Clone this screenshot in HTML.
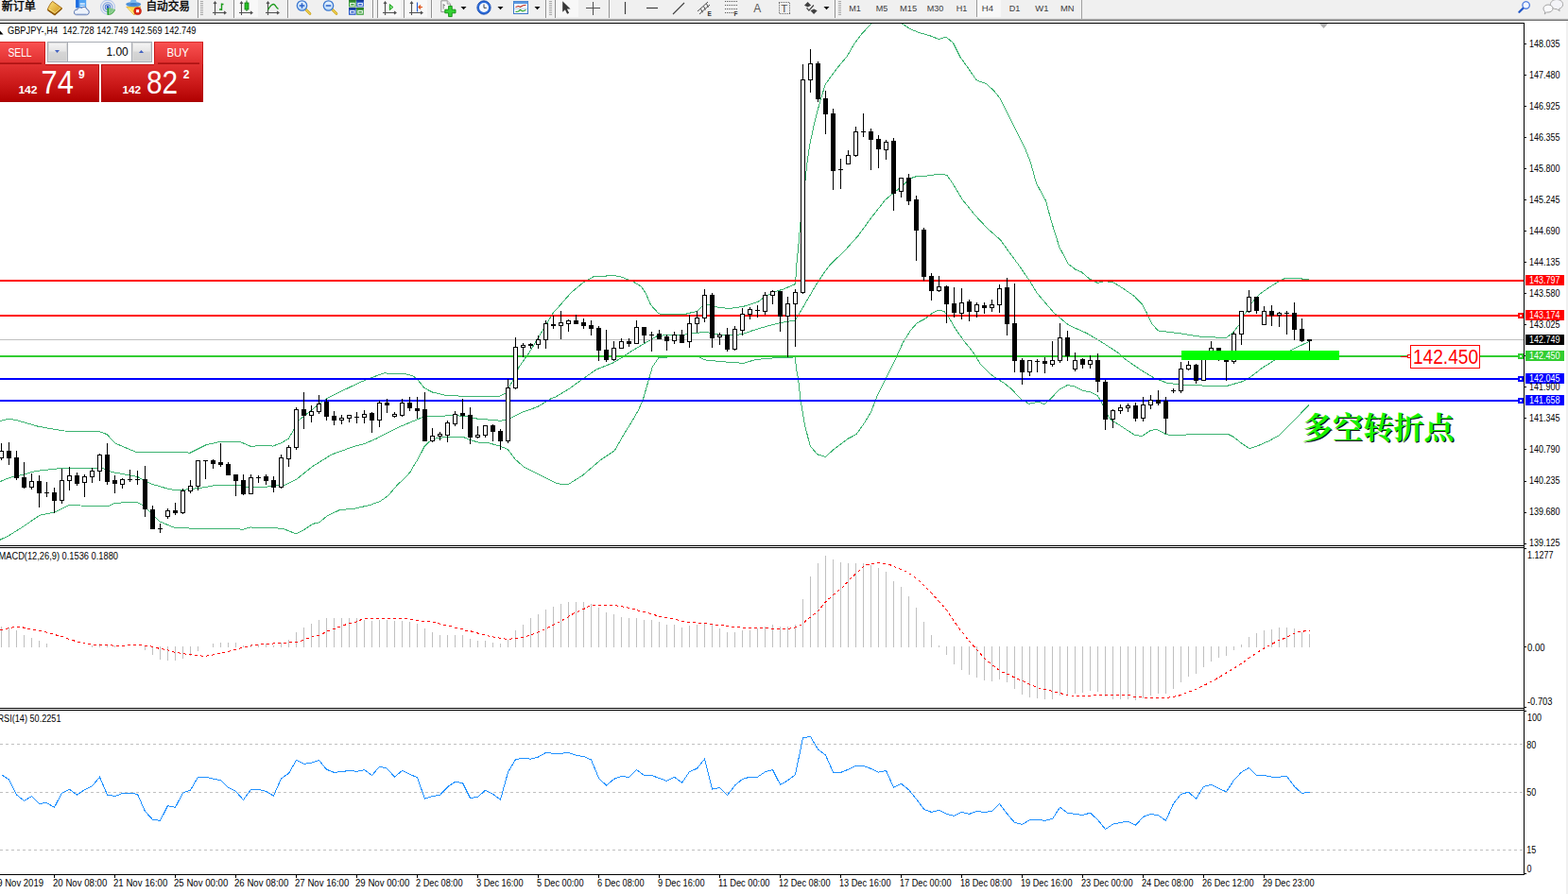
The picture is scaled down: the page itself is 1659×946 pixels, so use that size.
<!DOCTYPE html>
<html><head><meta charset="utf-8"><title>GBPJPY-,H4</title>
<style>
html,body{margin:0;padding:0;background:#fff;width:1659px;height:946px;overflow:hidden;font-family:"Liberation Sans",sans-serif;}
svg text{font-family:"Liberation Sans",sans-serif;}
</style></head>
<body>
<svg width="1659" height="946" viewBox="0 0 1659 946" style="position:absolute;left:0;top:0" font-family="Liberation Sans, sans-serif">
<defs>
<clipPath id="cm"><rect x="0" y="25" width="1612" height="552"/></clipPath>
<clipPath id="cmacd"><rect x="0" y="580" width="1612" height="169"/></clipPath>
<clipPath id="crsi"><rect x="0" y="752" width="1612" height="173"/></clipPath>
<linearGradient id="gTab" x1="0" y1="0" x2="0" y2="1"><stop offset="0" stop-color="#fa5252"/><stop offset="1" stop-color="#de2c2c"/></linearGradient>
<linearGradient id="gBox" x1="0" y1="0" x2="0" y2="1"><stop offset="0" stop-color="#e23232"/><stop offset="0.5" stop-color="#cc1a1a"/><stop offset="1" stop-color="#b00000"/></linearGradient>
<linearGradient id="gSpin" x1="0" y1="0" x2="0" y2="1"><stop offset="0" stop-color="#f4f4f4"/><stop offset="0.45" stop-color="#e6e6e6"/><stop offset="0.5" stop-color="#d6d6d6"/><stop offset="1" stop-color="#cfcfcf"/></linearGradient>
<linearGradient id="gGold" x1="0" y1="0" x2="1" y2="1"><stop offset="0" stop-color="#ffe680"/><stop offset="1" stop-color="#c88a10"/></linearGradient>
<linearGradient id="gBlue" x1="0" y1="0" x2="0" y2="1"><stop offset="0" stop-color="#6fb0f0"/><stop offset="1" stop-color="#1c5fc0"/></linearGradient>
<linearGradient id="gLens" x1="0" y1="0" x2="0" y2="1"><stop offset="0" stop-color="#e8f4ff"/><stop offset="1" stop-color="#b8d8f8"/></linearGradient>
</defs>
<rect x="0" y="0" width="1659" height="946" fill="#fff"/>
<g shape-rendering="crispEdges">
<g clip-path="url(#cm)" fill="none" stroke="#3cb371" stroke-width="1">
<polyline points="0,445.4 10.1,443.2 16.9,444.5 40.6,451.3 67.6,456 104.8,456.4 113.3,459.7 121.7,469 143.7,478.3 189.4,478.3 201.2,479.2 218.1,470.7 233.3,467.3 253.6,467.3 265.5,472.4 280,471.2 288.5,472.1 296.9,469.1 305.4,464 310.4,455.5 316.4,444.5 329,434.4 337.5,427.6 345.9,421.7 364.5,412.4 381.5,404.3 395,398.9 406.8,394.7 415.3,395.8 427.1,395.2 437.3,398 442.3,402.3 449.1,410.7 457.5,415 471.1,418.3 494.7,419.5 516.7,419.5 528.6,419.2 535.3,415.8 538.5,410 543.8,400.6 548.9,388.7 560,373 565.1,364.8 575.2,347.9 585.4,331 593.8,321.7 604,309.9 617.5,298.6 627.6,293 637.8,292.3 647.9,291.5 656.4,292.6 669.9,298 678.4,303.1 683.4,310.7 688.5,322.6 697,331.9 705.4,332.7 725.7,332.2 737.5,329.3 744.3,322.9 751.1,322.9 756.1,324.6 771.4,326.5 786.6,324.3 801.8,319.5 810.3,313.3 818.7,309 828.9,306 841.6,300.5 842.8,279.9 845.4,254.5 846.7,237.6 852.1,190.3 853.5,176 856.4,155.3 860.6,135 865.7,114.7 869,102.9 873.3,89.3 879.2,80.9 887.6,69.9 896.1,59.7 904.5,45.4 913,34.4 921.5,25.6 930,18 945,18 954.4,25.1 963.7,31 972.2,34.4 984,37.8 993.3,41.5 1000.9,39.1 1008.5,45.4 1016.1,60.6 1024.6,72.4 1033.1,84.8 1043.2,88.5 1051.7,96.1 1058.4,104.5 1066.9,121.5 1075.3,138.4 1083.8,155.3 1090.4,171.8 1096.4,193.8 1106.5,212.4 1112.4,234.4 1120.9,261.5 1130.2,279.2 1137.8,285.1 1144.5,288 1153,295.3 1161.5,299.5 1168.2,297.5 1178.4,299 1188.5,305.4 1200.3,313.5 1208.4,322 1213.4,331.3 1218.5,342.3 1225.3,349.9 1238.8,351.6 1252.3,353.3 1265.9,355.8 1281.1,356.8 1297.1,357.5 1304.4,352.1 1311.1,343.7 1317,332.3 1323.8,321.3 1332.3,311.6 1340.7,305.6 1352.6,298 1360.2,294.2 1373.7,294.1 1379.6,295.5 1385,296"/>
<polyline points="0,509.6 10.1,505.4 23.7,502.3 38.9,498.3 67.6,495.2 108.2,495.2 118.4,499.5 145.4,504.5 160.6,512.2 177.5,517.2 186,518.6 196.1,518.1 211.4,516.4 228.3,513.5 250.3,513 263.8,515.9 280,515.3 302,513 313.8,507.1 330.7,493.6 351,480.9 374.7,472.4 384.8,469.9 398.4,464 423.7,451.3 446.6,441.7 450.8,440.5 479.5,439.8 494.7,440.3 503.2,442.9 520,444.3 530.1,445.3 538.6,443.1 552.1,436.4 569,430.4 582.6,422 587.9,420 602.3,411.3 617.5,400.3 631,391 647.9,384.3 658.1,378.4 668.2,371.6 685.1,361.5 695.3,355.5 708.8,354.4 722.3,354.4 737.5,352.2 747.7,351.3 756.1,353.8 771.4,354.7 784.9,353.8 796.7,349.6 813.6,344.5 830.1,340.7 841.1,339 845.4,332.3 853.8,318 862.3,303.2 870.7,290.4 879.2,279.1 892.7,266.4 907.9,249.5 921.5,230.9 936.7,211.4 950.2,200.4 963.7,188.6 968.8,186.9 980.6,186.1 992.5,184.4 1001.8,185.2 1007.7,193.7 1017.8,210.6 1031.4,227.5 1044.9,241.9 1058.4,253.7 1068.6,268.1 1078.7,281.6 1088.9,296.5 1097.3,310.3 1100.1,313.5 1115.4,331.3 1130.6,344 1150,352.7 1161,359.2 1166.9,362.8 1184.7,374.4 1188.9,378.9 1205.8,390.7 1221,400 1234.5,405.1 1251.5,407.6 1268.4,407.6 1280.2,408.8 1298.8,408.2 1315.7,403.4 1322.5,399.2 1336,389 1349.5,380.6 1366.4,370.4 1376.6,365.4 1385,361.5"/>
<polyline points="0,571.3 10.1,566.3 23.7,557.8 42.3,545.1 57.5,542.1 72.7,534.6 84.5,535 115,535.3 121.7,532.4 143.7,531.1 150.5,534.1 162.3,545.1 169.1,551.9 184.3,558.3 211.4,559.5 233.3,559 240,559 256.9,560.2 265.3,558 285.6,558.5 299.1,559.3 313.4,564.9 321,561 331.1,554.3 337.9,552.9 346.3,545.8 359.8,539.4 373.3,538.6 391.9,534.3 402,530.6 410.5,524.7 420.6,512.9 428.8,505.4 434.1,499.4 437.3,493.6 442.3,485.6 449.1,472.4 454.2,467.4 460.9,464 472.8,462.3 489.7,462.3 498.1,465.7 506.6,468.2 516.7,468.7 528.5,471.9 536.9,475.2 545.4,486.2 553.8,493.8 570.7,502.3 587.6,510.8 592.7,512.1 602,512.1 616.4,503.1 635,487.1 650.2,476.9 660.3,459.2 668.8,445.7 675.6,433.8 680.6,422 684,410.1 686.8,400.3 690.2,388.5 697,378.4 708.8,377.9 739.2,377.5 746,380.9 766.3,382.9 786.6,384.3 800.1,380.4 818.7,378.9 841.1,377.9 842.8,391.5 844.5,400 847.1,423.7 851.3,449 857.2,471.9 864.8,480.8 873.3,483.4 882.6,475.2 897.8,463.9 906.2,459.5 914.7,447.3 921.5,436 928.2,418.6 936.7,401.7 946.8,381.3 955.3,362.7 963.7,349.2 970.5,341.6 978.9,337.3 987.4,330.6 993.3,328 999.2,329.7 1004.3,336.5 1011.1,348.3 1019.5,360.2 1029.7,372.9 1038.1,386.4 1046.6,394.8 1053.3,399.9 1061.8,405 1070.3,411.7 1080.4,422.7 1088.9,427.3 1098.5,425.1 1105.2,427.7 1112,421.7 1120.4,412.4 1129.7,407.4 1137.3,409.1 1145.8,413.3 1154.3,415 1161,418.4 1165.2,425.1 1169.5,433.6 1174.5,443.7 1184.7,450 1191.5,454.5 1200.7,460.4 1208.3,461.4 1217.6,455.3 1224.4,454.5 1232.9,459.2 1237.9,460.4 1276.8,459.5 1298.8,459.2 1305.6,462.6 1314,469.4 1322.1,474.8 1332.6,471 1342.8,466.5 1352.9,460.9 1363.1,450.8 1373.2,440.6 1385,428.5"/>
</g>
<rect x="0" y="296" width="1612" height="2" fill="#ff0000"/>
<rect x="0" y="333" width="1612" height="2" fill="#ff0000"/>
<rect x="0" y="359" width="1612" height="1" fill="#c0c0c0"/>
<rect x="0" y="376" width="1612" height="2" fill="#32cd32"/>
<rect x="0" y="400" width="1612" height="2" fill="#0000ff"/>
<rect x="0" y="423" width="1612" height="2" fill="#0000ff"/>
<path d="M1.5 469V487M9.5 468V492M17.5 477V508M25.5 489V517M33.5 501V518M41.5 503V537M49.5 510V526M57.5 516V543M65.5 496V533M73.5 494V519M81.5 500V514M89.5 502V526M97.5 495V511M105.5 480V509M113.5 469V513M121.5 503V522M129.5 506V517M137.5 497V510M145.5 498V513M153.5 493V547M161.5 535V560M169.5 554V564M177.5 538V549M185.5 532V545M193.5 517V544M201.5 508V522M209.5 487V519M217.5 487V507M225.5 486V496M233.5 469V494M241.5 489V503M249.5 502V525M257.5 502V524M265.5 502V523M273.5 503V511M281.5 502V513M289.5 504V521M297.5 481V517M305.5 471V494M313.5 431V476M321.5 415V454M329.5 429V447M337.5 418V438M345.5 422V445M353.5 435V450M361.5 439V449M369.5 439V447M377.5 436V448M385.5 434V448M393.5 436V458M401.5 424V452M409.5 422V437M417.5 436V442M425.5 422V441M433.5 420V435M441.5 420V443M449.5 415V467M457.5 453V468M465.5 457V466M473.5 445V468M481.5 435V451M489.5 422V454M497.5 431V470M505.5 451V464M513.5 450V463M521.5 449V467M529.5 454V476M537.5 401V469M545.5 357V412M553.5 363V378M561.5 363V369M569.5 355V369M577.5 339V369M585.5 334V348M593.5 329V359M601.5 338V351M609.5 333V343M617.5 337V348M625.5 339V355M633.5 345V382M641.5 349V383M649.5 361V382M657.5 358V369M665.5 358V367M673.5 339V364M681.5 346V363M689.5 351V372M697.5 349V359M705.5 354V371M713.5 351V364M721.5 349V363M729.5 333V368M737.5 329V352M745.5 306V341M753.5 310V368M761.5 352V365M769.5 347V372M777.5 345V371M785.5 326V355M793.5 325V338M801.5 323V336M809.5 309V333M817.5 307V322M825.5 308V351M833.5 314V378M841.5 306V367M849.5 68V311M857.5 52V98M865.5 65V108M873.5 96V142M881.5 115V201M889.5 168V200M897.5 159V174M905.5 134V166M913.5 120V145M921.5 136V180M929.5 143V178M937.5 148V169M945.5 146V223M953.5 188V209M961.5 184V217M969.5 207V276M977.5 241V297M985.5 289V318M993.5 292V309M1001.5 302V342M1009.5 304V336M1017.5 305V338M1025.5 317V340M1033.5 320V336M1041.5 320V332M1049.5 317V330M1057.5 301V331M1065.5 294V355M1073.5 300V394M1081.5 379V407M1089.5 381V398M1097.5 380V394M1105.5 378V395M1113.5 361V388M1121.5 342V384M1129.5 350V382M1137.5 373V393M1145.5 379V390M1153.5 376V390M1161.5 374V415M1169.5 402V455M1177.5 433V453M1185.5 428V438M1193.5 427V436M1201.5 426V446M1209.5 420V446M1217.5 418V433M1225.5 413V429M1233.5 420V459M1241.5 411V416M1249.5 383V416M1257.5 382V392M1265.5 385V406M1273.5 377V403M1281.5 361V378M1289.5 368V382M1297.5 374V403M1305.5 351V385M1313.5 329V365M1321.5 307V331M1329.5 314V332M1337.5 324V344M1345.5 323V345M1353.5 330V346M1361.5 329V354M1369.5 320V360M1377.5 337V362M1385.5 359V371" stroke="#000" stroke-width="1" fill="none"/>
<path d="M7 477h5v8h-5zM15 484h5v22h-5zM23 505h5v11h-5zM39 509h5v13h-5zM47 521h5v1h-5zM55 521h5v9h-5zM79 503h5v9h-5zM111 481h5v29h-5zM119 508h5v4h-5zM135 507h5v1h-5zM143 507h5v1h-5zM151 507h5v32h-5zM159 539h5v21h-5zM167 559h5v1h-5zM183 540h5v3h-5zM215 487h5v1h-5zM223 487h5v4h-5zM231 489h5v3h-5zM239 491h5v12h-5zM247 502h5v7h-5zM255 508h5v15h-5zM271 505h5v1h-5zM279 504h5v5h-5zM287 508h5v8h-5zM319 433h5v7h-5zM343 425h5v16h-5zM351 440h5v5h-5zM375 441h5v1h-5zM391 437h5v8h-5zM407 426h5v3h-5zM431 426h5v6h-5zM439 432h5v3h-5zM447 433h5v34h-5zM487 437h5v3h-5zM495 439h5v24h-5zM519 450h5v7h-5zM527 456h5v11h-5zM559 364h5v2h-5zM583 343h5v2h-5zM607 339h5v4h-5zM615 341h5v4h-5zM623 344h5v4h-5zM631 347h5v24h-5zM639 370h5v11h-5zM663 361h5v3h-5zM679 346h5v9h-5zM687 354h5v1h-5zM695 353h5v6h-5zM703 356h5v5h-5zM719 354h5v9h-5zM751 312h5v46h-5zM767 354h5v16h-5zM799 328h5v1h-5zM823 308h5v27h-5zM863 67h5v38h-5zM871 104h5v17h-5zM879 120h5v61h-5zM887 179h5v1h-5zM911 139h5v1h-5zM919 139h5v9h-5zM927 147h5v11h-5zM943 149h5v56h-5zM959 188h5v25h-5zM967 211h5v33h-5zM975 243h5v50h-5zM983 292h5v16h-5zM999 303h5v19h-5zM1007 321h5v10h-5zM1023 319h5v11h-5zM1039 323h5v3h-5zM1063 304h5v39h-5zM1071 342h5v40h-5zM1079 381h5v13h-5zM1095 382h5v1h-5zM1103 382h5v3h-5zM1127 357h5v20h-5zM1143 380h5v6h-5zM1159 381h5v23h-5zM1167 404h5v40h-5zM1199 429h5v14h-5zM1223 423h5v4h-5zM1231 424h5v19h-5zM1239 413h5v1h-5zM1263 386h5v17h-5zM1287 368h5v7h-5zM1295 374h5v9h-5zM1327 314h5v15h-5zM1343 329h5v5h-5zM1359 331h5v1h-5zM1367 331h5v18h-5zM1375 348h5v13h-5zM1383 359h5v2h-5z" fill="#000"/>
<path d="M-0.5 477.5h4v7h-4zM31.5 509.5h4v6h-4zM63.5 508.5h4v21h-4zM71.5 503.5h4v5h-4zM87.5 504.5h4v6h-4zM95.5 498.5h4v6h-4zM103.5 481.5h4v17h-4zM127.5 507.5h4v5h-4zM175.5 540.5h4v6h-4zM191.5 519.5h4v23h-4zM199.5 514.5h4v5h-4zM207.5 487.5h4v27h-4zM263.5 505.5h4v17h-4zM295.5 484.5h4v31h-4zM303.5 473.5h4v12h-4zM311.5 433.5h4v40h-4zM327.5 435.5h4v4h-4zM335.5 427.5h4v8h-4zM359.5 442.5h4v2h-4zM367.5 439.5h4v3h-4zM383.5 438.5h4v3h-4zM399.5 426.5h4v18h-4zM415.5 438.5h4v2h-4zM423.5 426.5h4v13h-4zM455.5 461.5h4v5h-4zM463.5 459.5h4v2h-4zM471.5 447.5h4v13h-4zM479.5 438.5h4v10h-4zM503.5 460.5h4v2h-4zM511.5 450.5h4v10h-4zM535.5 410.5h4v56h-4zM543.5 367.5h4v43h-4zM551.5 365.5h4v2h-4zM567.5 359.5h4v5h-4zM575.5 342.5h4v17h-4zM591.5 341.5h4v3h-4zM599.5 339.5h4v3h-4zM647.5 368.5h4v12h-4zM655.5 361.5h4v7h-4zM671.5 346.5h4v17h-4zM711.5 354.5h4v6h-4zM727.5 342.5h4v19h-4zM735.5 336.5h4v6h-4zM743.5 312.5h4v24h-4zM759.5 354.5h4v2h-4zM775.5 348.5h4v21h-4zM783.5 332.5h4v17h-4zM791.5 327.5h4v5h-4zM807.5 312.5h4v17h-4zM815.5 308.5h4v4h-4zM831.5 321.5h4v13h-4zM839.5 309.5h4v12h-4zM847.5 84.5h4v225h-4zM855.5 67.5h4v17h-4zM895.5 164.5h4v9h-4zM903.5 139.5h4v25h-4zM935.5 150.5h4v8h-4zM951.5 188.5h4v14h-4zM991.5 303.5h4v4h-4zM1015.5 320.5h4v11h-4zM1031.5 322.5h4v7h-4zM1047.5 322.5h4v3h-4zM1055.5 305.5h4v17h-4zM1087.5 381.5h4v12h-4zM1111.5 381.5h4v4h-4zM1119.5 357.5h4v24h-4zM1135.5 381.5h4v9h-4zM1151.5 381.5h4v4h-4zM1175.5 434.5h4v9h-4zM1183.5 431.5h4v3h-4zM1191.5 429.5h4v2h-4zM1207.5 428.5h4v14h-4zM1215.5 423.5h4v5h-4zM1247.5 390.5h4v23h-4zM1255.5 386.5h4v4h-4zM1271.5 377.5h4v25h-4zM1279.5 368.5h4v8h-4zM1303.5 353.5h4v29h-4zM1311.5 329.5h4v24h-4zM1319.5 314.5h4v15h-4zM1335.5 329.5h4v14h-4zM1351.5 331.5h4v2h-4z" fill="#fff" stroke="#000" stroke-width="1"/>
<rect x="1250" y="371" width="167" height="10" fill="#00ff00"/>
<rect x="1482" y="376.5" width="8" height="1" fill="#ff0000"/>
<rect x="1489.5" y="375.5" width="3" height="3" fill="#fff" stroke="#ff0000" stroke-width="1"/>
<rect x="1492.5" y="365.5" width="73" height="24" fill="#fff" stroke="#ff0000" stroke-width="1"/>
<path d="M1396 25h9l-4.5 5z" fill="#b0b0b0" shape-rendering="auto"/>
<g clip-path="url(#cmacd)">
<path d="M1.5 663V685M9.5 664V685M17.5 667V685M25.5 672V685M33.5 675V685M41.5 678V685M49.5 681V685M97.5 683V685M105.5 681V685M113.5 682V685M121.5 683V685M153.5 684V688M161.5 684V693M169.5 684V698M177.5 684V699M185.5 684V699M193.5 684V697M201.5 684V694M209.5 684V689M225.5 681V685M233.5 680V685M241.5 680V685M249.5 680V685M257.5 683V685M265.5 682V685M273.5 682V685M281.5 681V685M289.5 683V685M297.5 680V685M305.5 677V685M313.5 669V685M321.5 664V685M329.5 660V685M337.5 656V685M345.5 654V685M353.5 654V685M361.5 654V685M369.5 654V685M377.5 654V685M385.5 656V685M393.5 657V685M401.5 656V685M409.5 656V685M417.5 657V685M425.5 657V685M433.5 658V685M441.5 660V685M449.5 665V685M457.5 669V685M465.5 672V685M473.5 672V685M481.5 672V685M489.5 672V685M497.5 676V685M505.5 678V685M513.5 678V685M521.5 680V685M529.5 681V685M537.5 677V685M545.5 667V685M553.5 661V685M561.5 654V685M569.5 650V685M577.5 645V685M585.5 642V685M593.5 639V685M601.5 637V685M609.5 637V685M617.5 637V685M625.5 639V685M633.5 643V685M641.5 648V685M649.5 650V685M657.5 653V685M665.5 654V685M673.5 654V685M681.5 656V685M689.5 656V685M697.5 658V685M705.5 661V685M713.5 661V685M721.5 664V685M729.5 662V685M737.5 661V685M745.5 659V685M753.5 661V685M761.5 665V685M769.5 669V685M777.5 669V685M785.5 667V685M793.5 667V685M801.5 665V685M809.5 663V685M817.5 661V685M825.5 663V685M833.5 663V685M841.5 661V685M849.5 634V685M857.5 610V685M865.5 596V685M873.5 588V685M881.5 592V685M889.5 595V685M897.5 596V685M905.5 596V685M913.5 596V685M921.5 598V685M929.5 601V685M937.5 605V685M945.5 615V685M953.5 621V685M961.5 631V685M969.5 643V685M977.5 658V685M985.5 672V685M993.5 683V685M1001.5 684V693M1009.5 684V703M1017.5 684V709M1025.5 684V714M1033.5 684V717M1041.5 684V720M1049.5 684V721M1057.5 684V719M1065.5 684V722M1073.5 684V729M1081.5 684V735M1089.5 684V738M1097.5 684V739M1105.5 684V740M1113.5 684V740M1121.5 684V736M1129.5 684V735M1137.5 684V734M1145.5 684V733M1153.5 684V731M1161.5 684V732M1169.5 684V737M1177.5 684V740M1185.5 684V740M1193.5 684V740M1201.5 684V741M1209.5 684V739M1217.5 684V736M1225.5 684V734M1233.5 684V734M1241.5 684V729M1249.5 684V722M1257.5 684V716M1265.5 684V713M1273.5 684V706M1281.5 684V700M1289.5 684V696M1297.5 684V694M1305.5 684V688M1313.5 682V685M1321.5 674V685M1329.5 670V685M1337.5 667V685M1345.5 666V685M1353.5 664V685M1361.5 664V685M1369.5 665V685M1377.5 669V685M1385.5 671V685" stroke="#c0c0c0" stroke-width="1" fill="none"/>
<polyline points="0,666.7 10.1,664.5 17.8,663.3 25.4,664.1 33.8,666.2 42.3,667.5 50.7,669.5 60.9,672.4 67.6,674.3 74.4,676.8 81.2,678.8 91.3,680.5 98.1,682.6 111.6,682.7 128.5,683.4 135.3,682.6 148.8,682.6 155.6,683.4 162.3,684.4 169.1,686.5 175.9,687.3 182.6,689.8 192.8,691.5 202.9,692.9 216.4,694.4 226.6,692.7 236.7,690.2 245.2,688.5 251.9,686.5 260.4,684.8 265.5,683.1 273.9,682.2 280,681.6 296.9,680.5 313.8,679.4 318.9,678 329,674.3 337.5,672.4 347.6,667.5 354.4,665.3 361.2,662.4 367.9,660.2 378.1,657.7 383.1,655.2 389.9,654.3 420.3,654.3 437.3,655.2 440.6,656.5 450.8,657.4 462.6,659.1 469.4,661.4 476.1,662.4 481.2,664.1 489.7,665.7 493,667.3 501.5,668.4 506.6,670.4 513.3,671.6 518.4,673.4 525.2,674.6 531.9,675.5 537,676.8 543.8,675.5 553.9,674.6 560,672.3 570.1,668.7 576.9,665.7 583.7,662.3 593.8,656.9 600.6,653.1 607.3,648.9 617.5,644.5 625.1,640.5 634.4,640.3 649.6,640.5 661.5,642.5 668.2,643.7 673.3,645.5 685.1,648.4 691.9,650.4 697,652.3 708.8,654.3 715.6,655.5 720.6,657.2 727.4,658.6 744.3,659.4 751.1,660.6 762.9,661.6 771.4,662.4 774.7,663.3 786.6,664.1 810.3,664.5 818.7,665.3 833.9,665.3 840,664.3 847.6,661.1 856.9,653.5 865.4,646.7 873.8,636.6 882.3,629 890.7,622.2 899.2,612.9 907.6,605.3 914.4,598.5 921.2,596.5 929.6,595.7 939.8,596.8 948.2,600.7 956.7,603.6 965.1,608.7 973.6,615.4 983.7,625.6 992.2,634.9 1000.6,644.2 1007.4,654.3 1015.9,666.2 1024.3,677.2 1032.8,686.5 1041.2,696.3 1049.7,703.4 1058.1,710.1 1066.6,713.5 1075,717.7 1083.5,721.1 1091.9,725.3 1100.4,728.4 1108.9,730.1 1120,733.2 1130.1,735.5 1143.7,737.2 1150.4,736.3 1167.3,735.5 1196.1,736 1201.2,737.7 1221.5,738.4 1235,738.4 1246.8,736.3 1255.3,733 1263.7,730.1 1275.6,724.5 1287.4,718.1 1299.2,711 1311.1,703.9 1322.9,695.4 1334.7,687.6 1346.6,681 1353.3,677.5 1360.1,675.1 1365.2,672.4 1372,669 1380.4,667.9 1385.5,667.3" fill="none" stroke="#ff0000" stroke-width="1" stroke-dasharray="3 3"/>
</g>
<g clip-path="url(#crsi)">
<line x1="0" y1="787.5" x2="1612" y2="787.5" stroke="#c0c0c0" stroke-width="1" stroke-dasharray="3 3"/>
<line x1="0" y1="838.5" x2="1612" y2="838.5" stroke="#c0c0c0" stroke-width="1" stroke-dasharray="3 3"/>
<line x1="0" y1="899.5" x2="1612" y2="899.5" stroke="#c0c0c0" stroke-width="1" stroke-dasharray="3 3"/>
<polyline points="1.5,819.6 9.5,825 17.5,841.1 25.5,847.2 33.5,842.8 41.5,850.4 49.5,849.6 57.5,854.3 65.5,839.1 73.5,835.2 81.5,841.1 89.5,835.7 97.5,831.8 105.5,822.2 113.5,841.1 121.5,842.5 129.5,839.6 137.5,839.1 145.5,840.4 153.5,858.5 161.5,867.3 169.5,868.3 177.5,852.6 185.5,854.3 193.5,839.1 201.5,836 209.5,822.2 217.5,822.2 225.5,824.2 233.5,825.6 241.5,833.2 249.5,837.4 257.5,846.4 265.5,835.4 273.5,835.4 281.5,837.4 289.5,842.1 297.5,823.9 305.5,818.3 313.5,804.4 321.5,808.3 329.5,807.3 337.5,804.4 345.5,814.2 353.5,817.4 361.5,816.6 369.5,815.4 377.5,816.3 385.5,814.6 393.5,820.5 401.5,811.2 409.5,813.2 417.5,822.2 425.5,815.4 433.5,819.3 441.5,822.7 449.5,845.3 457.5,842.5 465.5,841.3 473.5,832.8 481.5,827.2 489.5,828.6 497.5,844.5 505.5,843.3 513.5,836.2 521.5,840.3 529.5,846.2 537.5,817.1 545.5,803.6 553.5,802.2 561.5,803.2 569.5,801 577.5,796.5 585.5,797.3 593.5,797.3 601.5,796.3 609.5,799.3 617.5,800.5 625.5,803.9 633.5,823.4 641.5,831.1 649.5,824.4 657.5,821.3 665.5,822.5 673.5,814.6 681.5,820.5 689.5,820.5 697.5,823.5 705.5,826.4 713.5,822.2 721.5,828.4 729.5,816.6 737.5,813.2 745.5,803.2 753.5,835.2 761.5,833.5 769.5,841.6 777.5,831.1 785.5,824.4 793.5,822.2 801.5,822.2 809.5,816.8 817.5,814.6 825.5,830.3 833.5,825.9 841.5,819.6 849.5,780.7 857.5,779.4 865.5,793.1 873.5,799 881.5,817.1 889.5,817.4 897.5,814.2 905.5,810.3 913.5,810.3 921.5,813.4 929.5,817.1 937.5,815.4 945.5,833.2 953.5,829.3 961.5,835.7 969.5,845.5 977.5,856.3 985.5,859.4 993.5,857.3 1001.5,861.4 1009.5,863.3 1017.5,859.4 1025.5,861.4 1033.5,858.5 1041.5,859.4 1049.5,858.5 1057.5,850.4 1065.5,861.1 1073.5,870.4 1081.5,872.4 1089.5,867.5 1097.5,867.5 1105.5,868.3 1113.5,866.5 1121.5,854.3 1129.5,860.2 1137.5,861.4 1145.5,862.4 1153.5,860.2 1161.5,867.5 1169.5,877.5 1177.5,872.1 1185.5,870.4 1193.5,869.2 1201.5,873.2 1209.5,864.4 1217.5,861.4 1225.5,862.8 1233.5,868.3 1241.5,850.4 1249.5,840.4 1257.5,838.2 1265.5,845.3 1273.5,832.3 1281.5,830.3 1289.5,834.3 1297.5,837.9 1305.5,825.6 1313.5,817.1 1321.5,812.4 1329.5,820.5 1337.5,820.5 1345.5,822.2 1353.5,822.2 1361.5,821.3 1369.5,832.3 1377.5,839.4 1385.5,838.2" fill="none" stroke="#1e90ff" stroke-width="1"/>
</g>
<rect x="0" y="24" width="1613" height="1" fill="#000"/>
<rect x="1612" y="24" width="1" height="902" fill="#000"/>
<rect x="0" y="577" width="1613" height="1" fill="#000"/>
<rect x="0" y="579" width="1613" height="1" fill="#000"/>
<rect x="0" y="749" width="1613" height="1" fill="#000"/>
<rect x="0" y="751" width="1613" height="1" fill="#000"/>
<rect x="0" y="925" width="1613" height="1" fill="#000"/>
<rect x="0" y="578" width="1612" height="1" fill="#fff"/>
<rect x="0" y="750" width="1612" height="1" fill="#fff"/>
<path d="M1613 46.5h2M1613 79.5h2M1613 112.5h2M1613 145.5h2M1613 178.5h2M1613 211.5h2M1613 244.5h2M1613 277.5h2M1613 310.5h2M1613 343.5h2M1613 376.5h2M1613 409.5h2M1613 442.5h2M1613 475.5h2M1613 509.5h2M1613 542.5h2M1613 575.5h2M1613 684.5h2M1613 580.5h2M1613 748.5h2M1613 752.5h2M1613 924.5h2" stroke="#000" stroke-width="1" fill="none"/>
<path d="M57.5 926v3M121.5 926v3M185.5 926v3M249.5 926v3M313.5 926v3M377.5 926v3M441.5 926v3M505.5 926v3M569.5 926v3M633.5 926v3M697.5 926v3M761.5 926v3M825.5 926v3M889.5 926v3M953.5 926v3M1017.5 926v3M1081.5 926v3M1145.5 926v3M1209.5 926v3M1273.5 926v3M1337.5 926v3" stroke="#000" stroke-width="1" fill="none"/>
<rect x="1614" y="291" width="41" height="11" fill="#ff0000"/>
<rect x="1614" y="328" width="41" height="11" fill="#ff0000"/>
<rect x="1606" y="331" width="6" height="6" fill="#ff0000"/><rect x="1608" y="333" width="2" height="2" fill="#fff"/>
<rect x="1614" y="354" width="41" height="11" fill="#000000"/>
<rect x="1614" y="371" width="41" height="11" fill="#32cd32"/>
<rect x="1606" y="374" width="6" height="6" fill="#32cd32"/><rect x="1608" y="376" width="2" height="2" fill="#fff"/>
<rect x="1614" y="395" width="41" height="11" fill="#0000ff"/>
<rect x="1606" y="398" width="6" height="6" fill="#0000ff"/><rect x="1608" y="400" width="2" height="2" fill="#fff"/>
<rect x="1614" y="418" width="41" height="11" fill="#0000ff"/>
<rect x="1606" y="421" width="6" height="6" fill="#0000ff"/><rect x="1608" y="423" width="2" height="2" fill="#fff"/>
</g>
<text x="1618" y="49.6" font-size="10" fill="#000" textLength="32.5" lengthAdjust="spacingAndGlyphs">148.035</text>
<text x="1618" y="82.6" font-size="10" fill="#000" textLength="32.5" lengthAdjust="spacingAndGlyphs">147.480</text>
<text x="1618" y="115.7" font-size="10" fill="#000" textLength="32.5" lengthAdjust="spacingAndGlyphs">146.925</text>
<text x="1618" y="148.7" font-size="10" fill="#000" textLength="32.5" lengthAdjust="spacingAndGlyphs">146.355</text>
<text x="1618" y="181.7" font-size="10" fill="#000" textLength="32.5" lengthAdjust="spacingAndGlyphs">145.800</text>
<text x="1618" y="214.8" font-size="10" fill="#000" textLength="32.5" lengthAdjust="spacingAndGlyphs">145.245</text>
<text x="1618" y="247.8" font-size="10" fill="#000" textLength="32.5" lengthAdjust="spacingAndGlyphs">144.690</text>
<text x="1618" y="280.8" font-size="10" fill="#000" textLength="32.5" lengthAdjust="spacingAndGlyphs">144.135</text>
<text x="1618" y="313.8" font-size="10" fill="#000" textLength="32.5" lengthAdjust="spacingAndGlyphs">143.580</text>
<text x="1618" y="346.9" font-size="10" fill="#000" textLength="32.5" lengthAdjust="spacingAndGlyphs">143.025</text>
<text x="1618" y="412.9" font-size="10" fill="#000" textLength="32.5" lengthAdjust="spacingAndGlyphs">141.900</text>
<text x="1618" y="446.0" font-size="10" fill="#000" textLength="32.5" lengthAdjust="spacingAndGlyphs">141.345</text>
<text x="1618" y="479.0" font-size="10" fill="#000" textLength="32.5" lengthAdjust="spacingAndGlyphs">140.790</text>
<text x="1618" y="512.0" font-size="10" fill="#000" textLength="32.5" lengthAdjust="spacingAndGlyphs">140.235</text>
<text x="1618" y="545.1" font-size="10" fill="#000" textLength="32.5" lengthAdjust="spacingAndGlyphs">139.680</text>
<text x="1618" y="578.1" font-size="10" fill="#000" textLength="32.5" lengthAdjust="spacingAndGlyphs">139.125</text>
<text x="1618" y="300.2" font-size="10" fill="#fff" textLength="32.5" lengthAdjust="spacingAndGlyphs">143.797</text>
<text x="1618" y="337.2" font-size="10" fill="#fff" textLength="32.5" lengthAdjust="spacingAndGlyphs">143.174</text>
<text x="1618" y="363.2" font-size="10" fill="#fff" textLength="32.5" lengthAdjust="spacingAndGlyphs">142.749</text>
<text x="1618" y="380.2" font-size="10" fill="#fff" textLength="32.5" lengthAdjust="spacingAndGlyphs">142.450</text>
<text x="1618" y="404.2" font-size="10" fill="#fff" textLength="32.5" lengthAdjust="spacingAndGlyphs">142.045</text>
<text x="1618" y="427.2" font-size="10" fill="#fff" textLength="32.5" lengthAdjust="spacingAndGlyphs">141.658</text>
<text x="1616" y="590.7" font-size="10" fill="#000" textLength="27.5" lengthAdjust="spacingAndGlyphs">1.1277</text>
<text x="1616" y="688.8" font-size="10" fill="#000" textLength="18.5" lengthAdjust="spacingAndGlyphs">0.00</text>
<text x="1616" y="746.3" font-size="10" fill="#000" textLength="26.5" lengthAdjust="spacingAndGlyphs">-0.703</text>
<text x="1616" y="762.5" font-size="10" fill="#000" textLength="15" lengthAdjust="spacingAndGlyphs">100</text>
<text x="1615.3" y="791.7" font-size="10" fill="#000" textLength="10" lengthAdjust="spacingAndGlyphs">80</text>
<text x="1615.3" y="842.4" font-size="10" fill="#000" textLength="10" lengthAdjust="spacingAndGlyphs">50</text>
<text x="1615.3" y="903.3" font-size="10" fill="#000" textLength="10" lengthAdjust="spacingAndGlyphs">15</text>
<text x="1615.5" y="922.6" font-size="10" fill="#000" textLength="5" lengthAdjust="spacingAndGlyphs">0</text>
<text x="-8" y="937.9" font-size="10" fill="#000" textLength="54" lengthAdjust="spacingAndGlyphs">19 Nov 2019</text>
<text x="56" y="937.9" font-size="10" fill="#000" textLength="57.3" lengthAdjust="spacingAndGlyphs">20 Nov 08:00</text>
<text x="120" y="937.9" font-size="10" fill="#000" textLength="57.3" lengthAdjust="spacingAndGlyphs">21 Nov 16:00</text>
<text x="184" y="937.9" font-size="10" fill="#000" textLength="57.3" lengthAdjust="spacingAndGlyphs">25 Nov 00:00</text>
<text x="248" y="937.9" font-size="10" fill="#000" textLength="57.3" lengthAdjust="spacingAndGlyphs">26 Nov 08:00</text>
<text x="312" y="937.9" font-size="10" fill="#000" textLength="57.3" lengthAdjust="spacingAndGlyphs">27 Nov 16:00</text>
<text x="376" y="937.9" font-size="10" fill="#000" textLength="57.3" lengthAdjust="spacingAndGlyphs">29 Nov 00:00</text>
<text x="440" y="937.9" font-size="10" fill="#000" textLength="49.5" lengthAdjust="spacingAndGlyphs">2 Dec 08:00</text>
<text x="504" y="937.9" font-size="10" fill="#000" textLength="49.5" lengthAdjust="spacingAndGlyphs">3 Dec 16:00</text>
<text x="568" y="937.9" font-size="10" fill="#000" textLength="49.5" lengthAdjust="spacingAndGlyphs">5 Dec 00:00</text>
<text x="632" y="937.9" font-size="10" fill="#000" textLength="49.5" lengthAdjust="spacingAndGlyphs">6 Dec 08:00</text>
<text x="696" y="937.9" font-size="10" fill="#000" textLength="49.5" lengthAdjust="spacingAndGlyphs">9 Dec 16:00</text>
<text x="760" y="937.9" font-size="10" fill="#000" textLength="54.5" lengthAdjust="spacingAndGlyphs">11 Dec 00:00</text>
<text x="824" y="937.9" font-size="10" fill="#000" textLength="54.5" lengthAdjust="spacingAndGlyphs">12 Dec 08:00</text>
<text x="888" y="937.9" font-size="10" fill="#000" textLength="54.5" lengthAdjust="spacingAndGlyphs">13 Dec 16:00</text>
<text x="952" y="937.9" font-size="10" fill="#000" textLength="54.5" lengthAdjust="spacingAndGlyphs">17 Dec 00:00</text>
<text x="1016" y="937.9" font-size="10" fill="#000" textLength="54.5" lengthAdjust="spacingAndGlyphs">18 Dec 08:00</text>
<text x="1080" y="937.9" font-size="10" fill="#000" textLength="54.5" lengthAdjust="spacingAndGlyphs">19 Dec 16:00</text>
<text x="1144" y="937.9" font-size="10" fill="#000" textLength="54.5" lengthAdjust="spacingAndGlyphs">23 Dec 00:00</text>
<text x="1208" y="937.9" font-size="10" fill="#000" textLength="54.5" lengthAdjust="spacingAndGlyphs">24 Dec 08:00</text>
<text x="1272" y="937.9" font-size="10" fill="#000" textLength="54.5" lengthAdjust="spacingAndGlyphs">26 Dec 12:00</text>
<text x="1336" y="937.9" font-size="10" fill="#000" textLength="54.5" lengthAdjust="spacingAndGlyphs">29 Dec 23:00</text>
<text x="8" y="36.3" font-size="10.5" fill="#000" textLength="199.5" lengthAdjust="spacingAndGlyphs">GBPJPY-,H4&#160;&#160;142.728 142.749 142.569 142.749</text>
<path d="M0 36.5l3.5 0l-3.5 -4z" fill="#000"/>
<text x="-1.5" y="592.4" font-size="10" fill="#000" textLength="126.5" lengthAdjust="spacingAndGlyphs">MACD(12,26,9) 0.1536 0.1880</text>
<text x="-2.5" y="764.2" font-size="10" fill="#000" textLength="67" lengthAdjust="spacingAndGlyphs">RSI(14) 50.2251</text>
<text x="1495" y="385" font-size="21.5" fill="#ff0000" textLength="69" lengthAdjust="spacingAndGlyphs">142.450</text>
<text x="1379.0" y="465.4" font-size="32" font-weight="bold" fill="#101010" textLength="161" lengthAdjust="spacingAndGlyphs" style="font-family:'Liberation Serif','Noto Serif CJK SC',serif">多空转折点</text>
<text x="1377.8" y="464.2" font-size="32" font-weight="bold" fill="#14f400" textLength="161" lengthAdjust="spacingAndGlyphs" style="font-family:'Liberation Serif','Noto Serif CJK SC',serif">多空转折点</text>
<g id="toolbar">
<rect x="0" y="0" width="1659" height="20" fill="#f0f0f0"/>
<rect x="0" y="19" width="1659" height="1" fill="#e6e6e6"/>
<rect x="0" y="20" width="1659" height="1" fill="#b0b0b0"/>
<rect x="0" y="21" width="1659" height="1" fill="#707070"/>
<rect x="0" y="22" width="1659" height="2" fill="#fff"/>
<rect x="1657" y="22" width="2" height="924" fill="#f0f0f0"/><rect x="1656" y="22" width="1" height="924" fill="#fff"/>
<text x="1.7" y="11.15" font-size="12" fill="#000" stroke="#000" stroke-width="0.36" textLength="36.15" lengthAdjust="spacingAndGlyphs" style="font-family:'Liberation Sans','Noto Sans CJK SC',sans-serif">新订单</text>
<text x="154.4" y="11.15" font-size="12" fill="#000" stroke="#000" stroke-width="0.36" textLength="46.6" lengthAdjust="spacingAndGlyphs" style="font-family:'Liberation Sans','Noto Sans CJK SC',sans-serif">自动交易</text>
<g><path d="M55.6 1.4L65.7 8.7L58 15.9L50.2 10.3C51.5 7 53.2 3.6 55.6 1.4z" fill="url(#gGold)" stroke="#a06810" stroke-width="0.9" stroke-linejoin="round"/><path d="M50.6 10.6L58 15.6L65.4 9" stroke="#8a560a" stroke-width="1.4" fill="none"/><path d="M52 9.6L58.3 13.6L64 8.6" stroke="#fff2a8" stroke-width="0.7" fill="none" opacity="0.8"/></g>
<g transform="translate(77,0)"><path d="M3.2 -0.5h11v8.8h-11z" fill="#52a4f4"/><path d="M3.2 -0.5h3.2v8.8h-3.2z" fill="#1c6ae0"/><rect x="7.6" y="3.4" width="5.2" height="1.3" fill="#fff"/><rect x="7.6" y="5.8" width="5.2" height="1.2" fill="#dcecff"/><path d="M3.6 15.7h11a2.9 2.9 0 0 0 .5-5.7a3.2 3.2 0 0 0-5.7-1.4a2.7 2.7 0 0 0-4.5 1.6a2.8 2.8 0 0 0-1.3 5.5z" fill="#eef3fb" stroke="#4a68a8" stroke-width="0.9"/><path d="M3.2 14.6h11.6" stroke="#c4d2ea" stroke-width="1.2"/></g>
<g fill="none"><circle cx="114" cy="7.6" r="7.5" stroke="#b8caec" stroke-width="1.1"/><circle cx="114" cy="7.6" r="5" stroke="#84a4e0" stroke-width="1.2"/><circle cx="114" cy="7.6" r="2.7" stroke="#5480d4" stroke-width="1.1"/><path d="M114 7.6L114.3 15.9A8.2 8.2 0 0 0 121.9 10z" fill="#7cc87c" fill-opacity="0.85"/><path d="M114.3 15.5a7.9 7.9 0 0 0 7.3-5.4" stroke="#58b058" stroke-width="1"/><path d="M114.2 7.6v8.2" stroke="#1ea01e" stroke-width="1.5"/><circle cx="114" cy="7.4" r="1.4" fill="#2456c8"/></g>
<g><path d="M133.8 7.2L142 15.9L148.8 7z" fill="#ffd648" stroke="#d8a018" stroke-width="0.7"/><path d="M136 8.5l5.5 6" stroke="#fff0a0" stroke-width="1"/><ellipse cx="141.2" cy="4.6" rx="8" ry="2.6" fill="#4c90d8"/><path d="M137.4 4.4C137.8 0.2 139.2 -1.2 141.2 -1.2S144.6 0.2 145 4.4z" fill="#7ab8ec"/><ellipse cx="141.2" cy="4.2" rx="3.8" ry="1.1" fill="#3c7cc8"/><circle cx="145.6" cy="11.7" r="3.9" fill="#e02814"/><circle cx="145.6" cy="11.7" r="3.9" fill="none" stroke="#b01808" stroke-width="0.6"/><rect x="144.1" y="10.2" width="3" height="3" fill="#fff"/></g>
<rect x="209" y="0" width="1" height="19" fill="#909090"/><rect x="210" y="0" width="1" height="19" fill="#fafafa"/>
<path d="M212 1.5h3M212 3.5h3M212 5.5h3M212 7.5h3M212 9.5h3M212 11.5h3M212 13.5h3M212 15.5h3" stroke="#a8a8a8" stroke-width="1" shape-rendering="crispEdges"/>
<path d="M227.5 2v14M225 13.5h14M226 4l1.5-2l1.5 2M237 12l2 1.5l-2 1.5" stroke="#505050" stroke-width="1.1" fill="none"/>
<path d="M234.5 3.5v7.5M234.5 4.5h2M232 10h2.5" stroke="#1a9a1a" stroke-width="1.4" fill="none"/>
<rect x="247" y="0" width="1" height="19" fill="#909090"/><rect x="248" y="0" width="1" height="19" fill="#fafafa"/>
<rect x="248" y="0" width="25" height="18" fill="#f8f8f8"/>
<path d="M255.5 2v14M253 13.5h14M254 4l1.5-2l1.5 2M265 12l2 1.5l-2 1.5" stroke="#505050" stroke-width="1.1" fill="none"/>
<rect x="259" y="3" width="4" height="7" fill="#28c028" stroke="#0d7a0d" stroke-width="0.8"/><path d="M261 0.5v2.5M261 10v2" stroke="#0d7a0d" stroke-width="1"/>
<path d="M283.5 2v14M281 13.5h14M282 4l1.5-2l1.5 2M293 12l2 1.5l-2 1.5" stroke="#505050" stroke-width="1.1" fill="none"/>
<path d="M283.5 10.5c2.5-5 5.5-7 7-5.5s2 3 4 4.5" stroke="#1a9a1a" stroke-width="1.3" fill="none"/>
<rect x="304" y="0" width="1" height="19" fill="#909090"/><rect x="305" y="0" width="1" height="19" fill="#fafafa"/>
<path d="M323.0 9.5l5 5" stroke="#c8a018" stroke-width="2.6" stroke-linecap="round"/><path d="M323.0 9.5l5 5" stroke="#f0d050" stroke-width="1.2" stroke-linecap="round"/><circle cx="319.5" cy="6" r="5.2" fill="url(#gLens)" stroke="#3c78d0" stroke-width="1.3"/><path d="M316.7 6h5.6M319.5 3.2v5.6" stroke="#2c62c8" stroke-width="1.5"/>
<path d="M351.0 9.5l5 5" stroke="#c8a018" stroke-width="2.6" stroke-linecap="round"/><path d="M351.0 9.5l5 5" stroke="#f0d050" stroke-width="1.2" stroke-linecap="round"/><circle cx="347.5" cy="6" r="5.2" fill="url(#gLens)" stroke="#3c78d0" stroke-width="1.3"/><path d="M344.7 6h5.6" stroke="#2c62c8" stroke-width="1.5"/>
<g transform="translate(369,0)"><rect x="0" y="-1" width="7.6" height="8.4" fill="#3a9e3a"/><rect x="8.2" y="-1" width="7.6" height="8.4" fill="#2456c8"/><rect x="0" y="8" width="7.6" height="7.8" fill="#2456c8"/><rect x="8.2" y="8" width="7.6" height="7.8" fill="#3a9e3a"/><rect x="0" y="-1" width="7.6" height="2.6" fill="#2c7e2c"/><rect x="8.2" y="-1" width="7.6" height="2.6" fill="#183c98"/><rect x="0" y="8" width="7.6" height="2.2" fill="#183c98"/><rect x="8.2" y="8" width="7.6" height="2.2" fill="#2c7e2c"/><g fill="none" stroke="#fff" stroke-width="1"><rect x="1.7" y="3.4" width="4.4" height="2.6"/><rect x="9.9" y="3.4" width="4.4" height="2.6"/><rect x="1.7" y="11.4" width="4.4" height="2.6"/><rect x="9.9" y="11.4" width="4.4" height="2.6"/></g></g>
<rect x="394" y="0" width="1" height="19" fill="#909090"/><rect x="395" y="0" width="1" height="19" fill="#fafafa"/>
<rect x="399" y="0" width="1" height="19" fill="#909090"/><rect x="400" y="0" width="1" height="19" fill="#fafafa"/>
<rect x="400" y="0" width="24" height="18" fill="#f8f8f8"/>
<path d="M407.5 2v14M405 13.5h14M406 4l1.5-2l1.5 2M417 12l2 1.5l-2 1.5" stroke="#505050" stroke-width="1.1" fill="none"/>
<path d="M412.3 4.6l3.6 3l-3.6 3z" fill="#7ce07c" stroke="#18a018" stroke-width="1"/>
<rect x="427" y="0" width="1" height="19" fill="#909090"/><rect x="428" y="0" width="1" height="19" fill="#fafafa"/>
<rect x="428" y="0" width="24" height="18" fill="#f8f8f8"/>
<path d="M435.5 2v14M433 13.5h14M434 4l1.5-2l1.5 2M445 12l2 1.5l-2 1.5" stroke="#505050" stroke-width="1.1" fill="none"/>
<path d="M441.5 2.5v10" stroke="#2860d0" stroke-width="1.2"/><path d="M447 7.5h-4M445 5.5l-2 2l2 2" stroke="#e05010" stroke-width="1.2" fill="none"/>
<rect x="456" y="0" width="1" height="19" fill="#909090"/><rect x="457" y="0" width="1" height="19" fill="#fafafa"/>
<g transform="translate(466,0)"><path d="M0.8 0.8h6.4l3.4 3.4v8.4h-9.8z" fill="#f6f6f6" stroke="#8a8a8a" stroke-width="0.9"/><path d="M7.2 0.8v3.4h3.4" fill="#e0e0e0" stroke="#8a8a8a" stroke-width="0.7"/><path d="M3.2 4v5.5M3.2 5.6h1.8" stroke="#707070" stroke-width="0.8"/><path d="M8.6 6.4h3.6v3.8h3.8v3.6h-3.8v3.8h-3.6v-3.8h-3.8v-3.6h3.8z" fill="#34d234" stroke="#0c8a0c" stroke-width="0.9"/></g>
<path d="M487.5 7h6l-3 3.2z" fill="#000"/>
<circle cx="512" cy="8" r="7.2" fill="#2a6ad8" stroke="#1848a8" stroke-width="0.8"/><circle cx="512" cy="8" r="5" fill="#f4f8ff"/><path d="M512 4.5v3.8h2.8" stroke="#404040" stroke-width="1" fill="none"/>
<path d="M526.5 7h6l-3 3.2z" fill="#000"/>
<g transform="translate(543,1)"><rect x="0.5" y="0.5" width="15" height="13" fill="#f8fbff" stroke="#3c78c8" stroke-width="1"/><rect x="0.5" y="0.5" width="15" height="2.5" fill="#5a98e0"/><path d="M2.5 6.5l3-1l2 .8l3-1.5l3-.5" stroke="#c03020" stroke-width="1.1" fill="none"/><path d="M1 8.2h14" stroke="#9ab8e0" stroke-width="0.7"/><path d="M2.5 11.5l3-.5l2-1.5l2.5 1.5l3.5-1.5" stroke="#20a020" stroke-width="1.1" fill="none"/></g>
<path d="M565.5 7h6l-3 3.2z" fill="#000"/>
<rect x="577" y="0" width="1" height="19" fill="#909090"/><rect x="578" y="0" width="1" height="19" fill="#fafafa"/>
<path d="M581 1.5h3M581 3.5h3M581 5.5h3M581 7.5h3M581 9.5h3M581 11.5h3M581 13.5h3M581 15.5h3" stroke="#a8a8a8" stroke-width="1" shape-rendering="crispEdges"/>
<rect x="587" y="0" width="1" height="19" fill="#909090"/><rect x="588" y="0" width="1" height="19" fill="#fafafa"/>
<rect x="588" y="0" width="24" height="18" fill="#f8f8f8"/>
<path d="M595.2 1.3v11.4l2.7-2.5l2.2 4.6l2-1l-2.2-4.4h3.7z" fill="#383838"/>
<path d="M627.5 1.5v14.5M620 8.5h15" stroke="#505050" stroke-width="1" shape-rendering="crispEdges"/>
<rect x="644" y="0" width="1" height="19" fill="#909090"/><rect x="645" y="0" width="1" height="19" fill="#fafafa"/>
<path d="M661.5 2v13" stroke="#404040" stroke-width="1.2"/>
<path d="M684 8.5h12" stroke="#404040" stroke-width="1.2"/>
<path d="M712 15l12-12" stroke="#404040" stroke-width="1.1"/>
<g stroke="#505050" stroke-width="1" fill="none"><path d="M738 12l11-10M740 15l11-10M741.5 9.3l1.8 4M744.5 6.5l1.8 4M747.5 3.8l1.8 4"/></g>
<text x="748.6" y="16.5" font-size="6.5" font-weight="bold" fill="#303030">E</text>
<path d="M767 1.5h13M767 5.5h13M767 9.5h13M767 13.5h9" stroke="#505050" stroke-width="1" stroke-dasharray="1 1" shape-rendering="crispEdges"/>
<text x="776.5" y="16.5" font-size="6.5" font-weight="bold" fill="#303030">F</text>
<text x="797.2" y="12.8" font-size="12" fill="#585858">A</text>
<rect x="824" y="2" width="11.5" height="12.5" fill="none" stroke="#606060" stroke-width="1" stroke-dasharray="1 1" shape-rendering="crispEdges"/><text x="826.2" y="12.8" font-size="11.5" fill="#505050">T</text>
<path d="M851 5.8l3.6-3.8l3.6 3.8l-3.6 1.6zM857.5 11.2l3.6 3.8l3.6-3.8l-3.6-1.6z" fill="#404040"/><path d="M853.5 8.3l2.4 2.8l5-5.6" stroke="#404040" stroke-width="1.2" fill="none"/>
<path d="M871.5 7h6l-3 3.2z" fill="#000"/>
<rect x="883" y="0" width="1" height="19" fill="#909090"/><rect x="884" y="0" width="1" height="19" fill="#fafafa"/>
<path d="M887 1.5h3M887 3.5h3M887 5.5h3M887 7.5h3M887 9.5h3M887 11.5h3M887 13.5h3M887 15.5h3" stroke="#a8a8a8" stroke-width="1" shape-rendering="crispEdges"/>
<rect x="1034" y="0" width="25" height="18" fill="#f8f8f8"/>
<rect x="1033" y="0" width="1" height="18" fill="#9a9a9a"/>
<rect x="1144" y="0" width="1" height="20" fill="#a0a0a0"/>
<text x="898.3" y="12" font-size="9.8" fill="#3c3c3c" textLength="12.6" lengthAdjust="spacingAndGlyphs">M1</text>
<text x="926.7" y="12" font-size="9.8" fill="#3c3c3c" textLength="12.6" lengthAdjust="spacingAndGlyphs">M5</text>
<text x="952" y="12" font-size="9.8" fill="#3c3c3c" textLength="18.2" lengthAdjust="spacingAndGlyphs">M15</text>
<text x="980.8" y="12" font-size="9.8" fill="#3c3c3c" textLength="17.6" lengthAdjust="spacingAndGlyphs">M30</text>
<text x="1011.7" y="12" font-size="9.8" fill="#3c3c3c" textLength="11.6" lengthAdjust="spacingAndGlyphs">H1</text>
<text x="1038.8" y="12" font-size="9.8" fill="#3c3c3c" textLength="12.2" lengthAdjust="spacingAndGlyphs">H4</text>
<text x="1067.8" y="12" font-size="9.8" fill="#3c3c3c" textLength="11.6" lengthAdjust="spacingAndGlyphs">D1</text>
<text x="1095.3" y="12" font-size="9.8" fill="#3c3c3c" textLength="14.2" lengthAdjust="spacingAndGlyphs">W1</text>
<text x="1122" y="12" font-size="9.8" fill="#3c3c3c" textLength="14.6" lengthAdjust="spacingAndGlyphs">MN</text>
<path d="M1612 8.2l-4.6 4.6" stroke="#2358c8" stroke-width="2.3" stroke-linecap="round"/><circle cx="1614.6" cy="5.4" r="3.7" fill="#f4f8ff" stroke="#2a62d8" stroke-width="1.1"/>
<g stroke="#9a9a9a" stroke-width="0.9"><path d="M1647 -0.5c3.7 0 6.6 2.2 6.6 5.1c0 2.2-1.6 4-4 4.7l.6 2.3l-2.9-1.9c-3.8 0-6.9-2.2-6.9-5.1s3-5.1 6.6-5.1z" fill="#f4f4f8"/><path d="M1638 5c2.8 0 5 1.8 5 4s-2.2 4-5 4l-1.6 0l-2.1 1.9l.5-2.4c-1.1-.8-1.8-2-1.8-3.5c0-2.2 2.2-4 5-4z" fill="#fafafc"/></g>
</g>
<g id="oct">
<rect x="0" y="44" width="48" height="25" fill="url(#gTab)"/>
<rect x="47" y="44" width="1" height="24" fill="#c81818"/>
<rect x="0" y="44" width="48" height="1" fill="#d83030"/>
<rect x="0" y="66.6" width="44" height="1" fill="#8c0000"/>
<rect x="163" y="44" width="52" height="25" fill="url(#gTab)"/>
<rect x="163" y="44" width="1" height="24" fill="#c81818"/><rect x="214" y="44" width="1" height="24" fill="#c81818"/>
<rect x="163" y="44" width="52" height="1" fill="#d83030"/>
<rect x="167" y="66.6" width="44" height="1" fill="#8c0000"/>
<rect x="0" y="68" width="105" height="40" fill="url(#gBox)"/>
<rect x="107" y="68" width="108" height="40" fill="url(#gBox)"/>
<rect x="104" y="68" width="1" height="40" fill="#b40808"/><rect x="107" y="68" width="1" height="40" fill="#b40808"/><rect x="214" y="68" width="1" height="40" fill="#b40808"/>
<rect x="48" y="68" width="57" height="1" fill="#c01010"/><rect x="107" y="68" width="56" height="1" fill="#c01010"/>
<rect x="0" y="107" width="105" height="1" fill="#a80000"/><rect x="107" y="107" width="108" height="1" fill="#a80000"/>
<rect x="50.5" y="44.5" width="110" height="21" fill="#fff" stroke="#a8acb4" stroke-width="1"/>
<rect x="51.5" y="45.5" width="19" height="19" fill="url(#gSpin)" stroke="#d8d8d8" stroke-width="1"/><rect x="71" y="45" width="1" height="20" fill="#a8acb4"/>
<rect x="140.5" y="45.5" width="19" height="19" fill="url(#gSpin)" stroke="#d8d8d8" stroke-width="1"/><rect x="139" y="45" width="1" height="20" fill="#a8acb4"/>
<path d="M58 53h5l-2.5 3z" fill="#4060c0"/><path d="M147 56h5l-2.5-3z" fill="#4060c0"/>
<text x="135.8" y="58.7" font-size="12" fill="#000" text-anchor="end">1.00</text>
<text x="8.4" y="60.2" font-size="12.6" fill="#fff" textLength="25.2" lengthAdjust="spacingAndGlyphs">SELL</text>
<text x="176.5" y="60.2" font-size="12.6" fill="#fff" textLength="23.4" lengthAdjust="spacingAndGlyphs">BUY</text>
<text x="19.4" y="99" font-size="11.6" fill="#fff" font-weight="bold" textLength="20.2" lengthAdjust="spacingAndGlyphs">142</text>
<text x="43.6" y="99.4" font-size="35" fill="#fff" textLength="34.4" lengthAdjust="spacingAndGlyphs">74</text>
<text x="83" y="83" font-size="12" fill="#fff" font-weight="bold">9</text>
<text x="129.4" y="99" font-size="11.6" fill="#fff" font-weight="bold" textLength="19.8" lengthAdjust="spacingAndGlyphs">142</text>
<text x="155" y="99.4" font-size="35" fill="#fff" textLength="33.2" lengthAdjust="spacingAndGlyphs">82</text>
<text x="193.8" y="83" font-size="12" fill="#fff" font-weight="bold">2</text>
</g>
</svg>
</body></html>
